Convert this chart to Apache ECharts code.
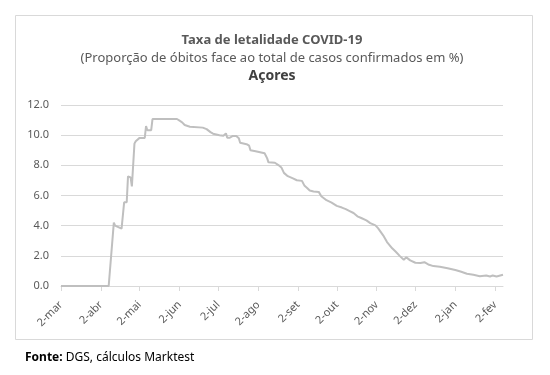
<!DOCTYPE html>
<html><head><meta charset="utf-8">
<script src="https://cdn.jsdelivr.net/npm/echarts@6/dist/echarts.min.js"></script>
<style>html,body{margin:0;padding:0;background:#fff}#c{width:550px;height:375px}</style>
</head><body><div id="c"></div>
<script>
// ---- data ----
const startDate = '2020-03-02';
const endDate = '2021-02-08';
const monthLabels = ['jan','fev','mar','abr','mai','jun','jul','ago','set','out','nov','dez'];
const yTicks = [0, 2, 4, 6, 8, 10, 12];
const pointDates = [
  '2020-03-02','2020-04-08','2020-04-10','2020-04-12','2020-04-13','2020-04-18','2020-04-20','2020-04-22',
  '2020-04-23','2020-04-25','2020-04-26','2020-04-28','2020-04-29','2020-04-30','2020-05-02','2020-05-06',
  '2020-05-07','2020-05-08','2020-05-11','2020-05-12','2020-05-31','2020-06-02','2020-06-04','2020-06-06',
  '2020-06-10','2020-06-11','2020-06-20','2020-06-23','2020-06-26','2020-06-28','2020-07-03','2020-07-06',
  '2020-07-08','2020-07-09','2020-07-11','2020-07-13','2020-07-16','2020-07-18','2020-07-19','2020-07-24',
  '2020-07-26','2020-07-27','2020-07-31','2020-08-07','2020-08-09','2020-08-10','2020-08-15','2020-08-18',
  '2020-08-20','2020-08-22','2020-08-25','2020-08-29','2020-09-01','2020-09-05','2020-09-07','2020-09-09',
  '2020-09-11','2020-09-14','2020-09-18','2020-09-20','2020-09-24','2020-09-28','2020-10-02','2020-10-06',
  '2020-10-09','2020-10-12','2020-10-15','2020-10-18','2020-10-21','2020-10-25','2020-10-28','2020-11-01',
  '2020-11-03','2020-11-07','2020-11-10','2020-11-14','2020-11-17','2020-11-20','2020-11-23','2020-11-25',
  '2020-11-28','2020-12-02','2020-12-06','2020-12-09','2020-12-12','2020-12-16','2020-12-21','2020-12-27',
  '2021-01-02','2021-01-06','2021-01-11','2021-01-16','2021-01-21','2021-01-26','2021-01-29','2021-01-31',
  '2021-02-03','2021-02-04','2021-02-08'
];
const rates = [
  0.0, 0.0, 2.1, 4.2, 4.0, 3.8, 5.55, 5.55,
  7.27, 7.2, 6.6, 9.44, 9.6, 9.5, 9.82, 9.82,
  10.6, 10.33, 10.33, 11.07, 11.07, 10.96, 10.85, 10.67,
  10.56, 10.5, 10.5, 10.4, 10.2, 10.1, 9.99, 9.96,
  10.12, 9.83, 9.83, 9.94, 9.94, 9.79, 9.5, 9.4,
  9.3, 9.0, 8.94, 8.8, 8.46, 8.2, 8.17, 8.0,
  7.86, 7.5, 7.28, 7.13, 7.01, 6.97, 6.64, 6.5,
  6.33, 6.26, 6.24, 5.95, 5.69, 5.53, 5.31, 5.2,
  5.1, 4.97, 4.84, 4.62, 4.51, 4.35, 4.17, 4.02,
  3.84, 3.36, 2.91, 2.5, 2.25, 1.98, 1.74, 1.9,
  1.7, 1.54, 1.53, 1.58, 1.43, 1.32, 1.28, 1.18,
  1.06, 0.96, 0.81, 0.74, 0.65, 0.7, 0.63, 0.7,
  0.63, 0.74, 0.74
];

// ---- build daily categories ----
const categories = [];
(function () {
  const p = s => { const a = s.split('-').map(Number); return Date.UTC(a[0], a[1] - 1, a[2]); };
  for (let t = p(startDate); t <= p(endDate); t += 86400000) {
    categories.push(new Date(t).toISOString().slice(0, 10));
  }
})();
const seriesData = pointDates.map((d, i) => [categories.indexOf(d), rates[i]]);
const isSecond = (idx, val) => String(val).slice(8) === '02';

const FONT = 'Noto Sans';
const chart = echarts.init(document.getElementById('c'), null, { renderer: 'canvas' });
chart.setOption({
  animation: false,
  backgroundColor: '#ffffff',
  grid: { left: 61, right: 47, top: 105, bottom: 89, containLabel: false },
  xAxis: {
    type: 'category',
    data: categories,
    boundaryGap: false,
    axisLine: { show: true, lineStyle: { color: '#d9d9d9', width: 1 } },
    axisTick: { show: true, interval: isSecond, length: 5, lineStyle: { color: '#d9d9d9' } },
    axisLabel: {
      interval: isSecond,
      rotate: 45,
      margin: 17,
      color: '#595959',
      fontFamily: FONT,
      fontSize: 11,
      padding: [0, 0, 0, 0],
      formatter: v => '2-' + monthLabels[Number(v.slice(5, 7)) - 1]
    },
    splitLine: { show: false }
  },
  yAxis: {
    type: 'value',
    min: yTicks[0],
    max: yTicks[yTicks.length - 1],
    interval: 2,
    axisLine: { show: false },
    axisTick: { show: false },
    axisLabel: { color: '#595959', fontFamily: FONT, fontSize: 11, margin: 12, formatter: v => v.toFixed(1) },
    splitLine: { lineStyle: { color: '#d9d9d9', width: 1 } }
  },
  series: [{
    type: 'line',
    data: seriesData,
    showSymbol: false,
    symbol: 'none',
    lineStyle: { color: '#bfbfbf', width: 2 },
    itemStyle: { color: '#bfbfbf' }
  }],
  graphic: [
    { type: 'rect', shape: { x: 15.5, y: 15.5, width: 517, height: 324 }, style: { fill: 'none', stroke: '#d9d9d9', lineWidth: 1 }, z: -1 },
    { type: 'text', x: 272, y: 40, style: { text: 'Taxa de letalidade COVID-19', font: 'bold 13px "Noto Sans"', fill: '#595959', textAlign: 'center', textVerticalAlign: 'middle' } },
    { type: 'text', x: 272, y: 58, style: { text: '(Proporção de óbitos face ao total de casos confirmados em %)', font: '13px "Noto Sans"', fill: '#595959', textAlign: 'center', textVerticalAlign: 'middle' } },
    { type: 'text', x: 272, y: 76, style: { text: 'Açores', font: 'bold 14px "Noto Sans"', fill: '#404040', textAlign: 'center', textVerticalAlign: 'middle' } },
    { type: 'text', x: 25, y: 358, style: {
        text: '{b|Fonte:} {n|DGS, cálculos Marktest}',
        textVerticalAlign: 'middle',
        rich: {
          b: { fontFamily: FONT, fontWeight: 'bold', fontSize: 12, fill: '#000000' },
          n: { fontFamily: FONT, fontSize: 12, fill: '#000000' }
        },
        fill: '#000000', font: '12px "Noto Sans"'
      } }
  ]
});
</script>
</body></html>
